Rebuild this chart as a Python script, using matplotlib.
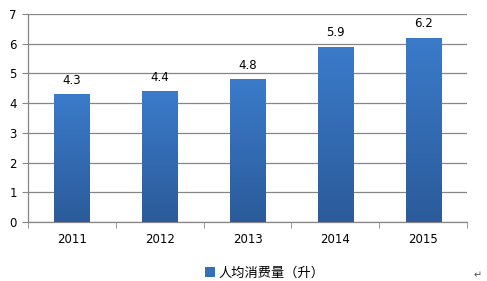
import numpy as np
import matplotlib.pyplot as plt
from matplotlib.colors import LinearSegmentedColormap
from matplotlib.patches import Patch

plt.rcParams['font.family'] = ['DejaVu Sans', 'Noto Sans CJK SC']

years = ['2011', '2012', '2013', '2014', '2015']
consumption = [4.3, 4.4, 4.8, 5.9, 6.2]
legend_label = '人均消费量（升）'

fig = plt.figure(figsize=(4.87, 2.81), dpi=100)
ax = fig.add_axes([28 / 487, 1 - 222 / 281, 439 / 487, 208 / 281])

x = np.arange(len(years))
bars = ax.bar(x, consumption, width=0.4, color='none', edgecolor='none', zorder=3)

# vertical gradient inside each bar
cmap = LinearSegmentedColormap.from_list('bar', ['#2b5b9a', '#3b7bca'])
grad = np.linspace(0, 1, 256).reshape(-1, 1)
for b in bars:
    x0, y0 = b.get_x(), b.get_y()
    w, h = b.get_width(), b.get_height()
    im = ax.imshow(grad, cmap=cmap, origin='lower', aspect='auto',
                   extent=[x0, x0 + w, y0, y0 + h], zorder=3)
    im.set_clip_path(b)
    ax.text(x0 + w / 2, h + 0.25, f'{h:.1f}', ha='center', va='bottom',
            fontsize=8.5, color='#000000', zorder=4)

ax.set_xlim(-0.5, len(years) - 0.5)
ax.set_ylim(0, 7)
ax.set_yticks(range(8))
ax.set_xticks(x)
ax.set_xticklabels(years)
ax.set_xticks(np.arange(-0.5, len(years)), minor=True)
ax.tick_params(axis='x', which='major', length=0, pad=8, labelsize=8.5)
ax.tick_params(axis='x', which='minor', length=4, color='#868686')
ax.tick_params(axis='y', length=4, color='#868686', labelsize=8.5, pad=4)
ax.yaxis.grid(True, color='#868686', linewidth=0.9, zorder=0)
ax.set_axisbelow(True)
for s in ['top', 'right']:
    ax.spines[s].set_visible(False)
for s in ['left', 'bottom']:
    ax.spines[s].set_color('#868686')
    ax.spines[s].set_linewidth(0.9)

handle = Patch(facecolor='#3470b8', edgecolor='none')
fig.legend([handle], [legend_label], loc='center', bbox_to_anchor=(265 / 487, 1 - 273 / 281),
           frameon=False, handlelength=0.7, handleheight=0.7, handletextpad=0.3,
           prop={'family': ['Noto Sans CJK SC', 'DejaVu Sans'], 'size': 9.5})
fig.text(478 / 487, 1 - 275 / 281, '↵', fontsize=7, color='#505050', ha='center', va='center')

fig.savefig('out.png', dpi=100)
